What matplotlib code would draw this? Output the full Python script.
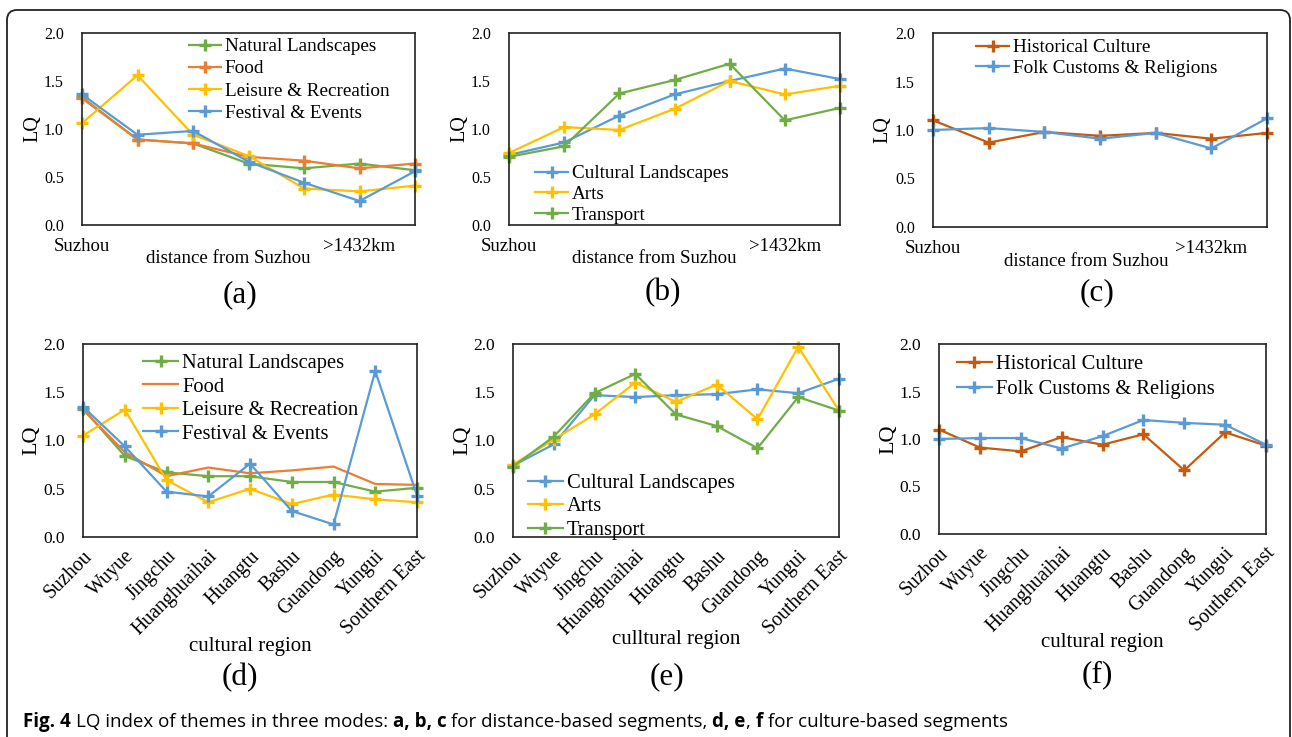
import matplotlib
matplotlib.use('Agg')
import matplotlib.pyplot as plt
from matplotlib.patches import FancyBboxPatch
from matplotlib.transforms import IdentityTransform
from matplotlib import font_manager

# ---------------- data ----------------
dist_ticks = ['Suzhou', '', '', '', '', '>1432km', '']
a_natural = [1.33, 0.89, 0.85, 0.64, 0.59, 0.64, 0.57]
a_food = [1.32, 0.89, 0.85, 0.71, 0.67, 0.59, 0.64]
a_leisure = [1.06, 1.56, 0.94, 0.72, 0.38, 0.35, 0.41]
a_festival = [1.36, 0.94, 0.98, 0.66, 0.44, 0.25, 0.56]
b_cultural = [0.73, 0.86, 1.14, 1.36, 1.50, 1.63, 1.52]
b_arts = [0.75, 1.02, 0.99, 1.21, 1.50, 1.36, 1.45]
b_transport = [0.71, 0.82, 1.37, 1.51, 1.68, 1.09, 1.22]
c_historical = [1.10, 0.87, 0.98, 0.94, 0.97, 0.91, 0.97]
c_folk = [1.00, 1.02, 0.98, 0.91, 0.97, 0.81, 1.12]

regions = ['Suzhou', 'Wuyue', 'Jingchu', 'Huanghuaihai', 'Huangtu', 'Bashu',
           'Guandong', 'Yungui', 'Southern East']
d_natural = [1.33, 0.84, 0.67, 0.63, 0.63, 0.57, 0.57, 0.47, 0.51]
d_food = [1.32, 0.88, 0.63, 0.72, 0.66, 0.69, 0.73, 0.55, 0.54]
d_leisure = [1.05, 1.32, 0.59, 0.36, 0.50, 0.34, 0.44, 0.39, 0.36]
d_festival = [1.35, 0.94, 0.47, 0.42, 0.76, 0.27, 0.13, 1.72, 0.43]
e_cultural = [0.74, 0.96, 1.47, 1.45, 1.47, 1.48, 1.53, 1.49, 1.64]
e_arts = [0.75, 1.01, 1.27, 1.60, 1.40, 1.58, 1.22, 1.97, 1.31]
e_transport = [0.73, 1.04, 1.49, 1.69, 1.27, 1.15, 0.92, 1.45, 1.31]
f_historical = [1.10, 0.91, 0.87, 1.02, 0.94, 1.05, 0.67, 1.07, 0.93]
f_folk = [1.00, 1.01, 1.01, 0.90, 1.03, 1.20, 1.17, 1.15, 0.94]

yticks = [0.0, 0.5, 1.0, 1.5, 2.0]

GREEN = '#70AD47'
ORANGE = '#ED7D31'
GOLD = '#FFC000'
BLUE = '#5B9BD5'
BROWN = '#C55A11'

# ---------------- figure ----------------
W, H = 1292, 737
plt.rcParams['font.family'] = ['Liberation Serif', 'DejaVu Serif']
fig = plt.figure(figsize=(W / 100, H / 100), dpi=100)


def ax_px(l, t, r, b):
    return fig.add_axes([l / W, 1 - b / H, (r - l) / W, (b - t) / H])


def style(ax, n, yt_size):
    ax.set_xlim(0, n - 1)
    ax.set_ylim(0, 2.0)
    ax.set_yticks(yticks)
    ax.set_yticklabels([f'{v:.1f}' for v in yticks], fontsize=yt_size)
    ax.tick_params(axis='both', length=0)
    ax.tick_params(axis='y', pad=13)
    for s in ax.spines.values():
        s.set_linewidth(1.2)
        s.set_color('#222222')


def plot_series(ax, vals, color, label, marker='+'):
    ax.plot(range(len(vals)), vals, color=color, lw=1.6, marker=marker,
            ms=9, mew=2.4, label=label, clip_on=False)


# ---------- top row ----------
top_axes = [ax_px(82, 33, 415, 225), ax_px(509, 33, 840, 225), ax_px(933, 33, 1267, 227)]
top_data = [
    [(a_natural, GREEN, 'Natural Landscapes'), (a_food, ORANGE, 'Food'),
     (a_leisure, GOLD, 'Leisure & Recreation'), (a_festival, BLUE, 'Festival & Events')],
    [(b_cultural, BLUE, 'Cultural Landscapes'), (b_arts, GOLD, 'Arts'),
     (b_transport, GREEN, 'Transport')],
    [(c_historical, BROWN, 'Historical Culture'), (c_folk, BLUE, 'Folk Customs & Religions')],
]
top_leg = [('upper left', (0.32, 0.975), 0.25), ('lower left', (0.08, 0.006), 0.17),
           ('upper left', (0.13, 0.97), 0.17)]
top_xlab = [(0.44, -0.13), (0.438, -0.13), (0.46, -0.135)]
top_letters = [('(a)', 240, 295), ('(b)', 663, 293), ('(c)', 1097, 293)]

for ax, data, (loc, anc, lsp), (lx, ly), (let, px, py) in zip(top_axes, top_data, top_leg, top_xlab, top_letters):
    for vals, c, lab in data:
        plot_series(ax, vals, c, lab)
    style(ax, len(dist_ticks), 11.5)
    ax.set_xticks(range(len(dist_ticks)))
    ax.set_xticklabels(dist_ticks, fontsize=13.5)
    ax.tick_params(axis='x', pad=9)
    ax.set_ylabel('LQ', fontsize=14.5)
    ax.yaxis.set_label_coords(-0.12, 0.5)
    ax.set_xlabel('distance from Suzhou', fontsize=13.6)
    ax.xaxis.set_label_coords(lx, ly)
    ax.legend(loc=loc, bbox_to_anchor=anc, frameon=False, fontsize=13.8,
              handlelength=1.7, handletextpad=0.2, labelspacing=lsp,
              borderpad=0.0, borderaxespad=0.0)
    fig.text(px / W, 1 - py / H, let, fontsize=22.5, ha='center', va='center')

# ---------- bottom row ----------
bot_axes = [ax_px(83, 344, 417, 537), ax_px(513, 344, 839, 537), ax_px(939, 344, 1266, 534)]
bot_data = [
    [(d_natural, GREEN, 'Natural Landscapes', '+'), (d_food, ORANGE, 'Food', None),
     (d_leisure, GOLD, 'Leisure & Recreation', '+'), (d_festival, BLUE, 'Festival & Events', '+')],
    [(e_cultural, BLUE, 'Cultural Landscapes', '+'), (e_arts, GOLD, 'Arts', '+'),
     (e_transport, GREEN, 'Transport', '+')],
    [(f_historical, BROWN, 'Historical Culture', '+'), (f_folk, BLUE, 'Folk Customs & Religions', '+')],
]
bot_leg = [('upper left', (0.18, 0.95), 0.2), ('lower left', (0.046, -0.015), 0.2),
           ('upper left', (0.055, 0.945), 0.3)]
bot_xlab = [('cultural region', 0.50, -0.52), ('culltural region', 0.50, -0.48), ('cultural region', 0.50, -0.52)]
bot_letters = [('(d)', 240, 678), ('(e)', 667, 677), ('(f)', 1097, 675)]

for ax, data, (loc, anc, lsp), (xl, lx, ly), (let, px, py) in zip(bot_axes, bot_data, bot_leg, bot_xlab, bot_letters):
    for vals, c, lab, mk in data:
        plot_series(ax, vals, c, lab, marker=mk)
    style(ax, len(regions), 12.5)
    ax.set_xticks(range(len(regions)))
    ax.set_xticklabels(regions, fontsize=14.3, rotation=45, ha='right', va='top',
                       rotation_mode='anchor')
    ax.tick_params(axis='x', pad=7)
    ax.set_ylabel('LQ', fontsize=16)
    ax.yaxis.set_label_coords(-0.125, 0.5)
    ax.set_xlabel(xl, fontsize=15)
    ax.xaxis.set_label_coords(lx, ly)
    ax.legend(loc=loc, bbox_to_anchor=anc, frameon=False, fontsize=14.8,
              handlelength=1.7, handletextpad=0.2, labelspacing=lsp,
              borderpad=0.0, borderaxespad=0.0)
    fig.text(px / W, 1 - py / H, let, fontsize=22.5, ha='center', va='center')

# ---------- outer rounded border ----------
border = FancyBboxPatch((7, -30), 1283, 757, boxstyle='round,pad=0,rounding_size=10',
                        transform=IdentityTransform(), fill=False, lw=1.3,
                        edgecolor='#222222', figure=fig)
fig.patches.append(border)

# ---------- caption ----------
avail = {f.name for f in font_manager.fontManager.ttflist}
cap_font = 'Liberation Sans Narrow' if 'Liberation Sans Narrow' in avail else 'Open Sans'
pieces = [('Fig. 4', 'bold'), ('LQ index of themes in three modes:', 'normal'),
          ('a, b, c', 'bold'), ('for distance-based segments,', 'normal'),
          ('d, e', 'bold'), (',', 'nospace'), ('f', 'bold'),
          ('for culture-based segments', 'normal')]

renderer = fig.canvas.get_renderer()


def measure(s, size, weight='normal'):
    t = fig.text(0, 0, s, fontsize=size, family=cap_font, weight=weight)
    w = t.get_window_extent(renderer).width
    t.remove()
    return w


def caption_width(size):
    sp = measure('a a', size) - measure('aa', size)
    total = 0
    for i, (s, kind) in enumerate(pieces):
        if i > 0 and kind != 'nospace':
            total += sp
        total += measure(s, size, 'bold' if kind == 'bold' else 'normal')
    return total, sp


base = 12.0
wtot, _ = caption_width(base)
size = base * 982 / wtot
_, sp = caption_width(size)
x = 23
for i, (s, kind) in enumerate(pieces):
    if i > 0 and kind != 'nospace':
        x += sp
    wgt = 'bold' if kind == 'bold' else 'normal'
    t = fig.text(x / W, 10 / H, s, fontsize=size, family=cap_font, weight=wgt,
                 va='baseline', ha='left')
    x += t.get_window_extent(renderer).width

fig.savefig('out.png', dpi=100)
